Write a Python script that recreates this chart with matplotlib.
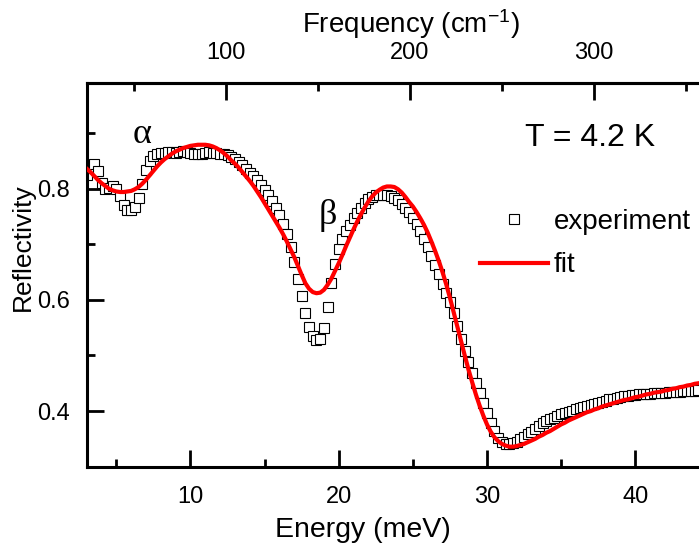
import matplotlib
matplotlib.use("Agg")
import matplotlib.pyplot as plt
from matplotlib.ticker import MultipleLocator, FixedLocator

plt.rcParams['font.family'] = ['Liberation Sans', 'DejaVu Sans']
plt.rcParams['mathtext.fontset'] = 'custom'
plt.rcParams['mathtext.rm'] = 'Liberation Sans'
plt.rcParams['mathtext.it'] = 'Liberation Sans:italic'

# photon energy grid (meV)
energy = [
    3.00, 3.25, 3.50, 3.75, 4.00, 4.25, 4.50, 4.75,
    5.00, 5.25, 5.50, 5.75, 6.00, 6.25, 6.50, 6.75,
    7.00, 7.25, 7.50, 7.75, 8.00, 8.25, 8.50, 8.75,
    9.00, 9.25, 9.50, 9.75, 10.00, 10.25, 10.50, 10.75,
    11.00, 11.25, 11.50, 11.75, 12.00, 12.25, 12.50, 12.75,
    13.00, 13.25, 13.50, 13.75, 14.00, 14.25, 14.50, 14.75,
    15.00, 15.25, 15.50, 15.75, 16.00, 16.25, 16.50, 16.75,
    17.00, 17.25, 17.50, 17.75, 18.00, 18.25, 18.50, 18.75,
    19.00, 19.25, 19.50, 19.75, 20.00, 20.25, 20.50, 20.75,
    21.00, 21.25, 21.50, 21.75, 22.00, 22.25, 22.50, 22.75,
    23.00, 23.25, 23.50, 23.75, 24.00, 24.25, 24.50, 24.75,
    25.00, 25.25, 25.50, 25.75, 26.00, 26.25, 26.50, 26.75,
    27.00, 27.25, 27.50, 27.75, 28.00, 28.25, 28.50, 28.75,
    29.00, 29.25, 29.50, 29.75, 30.00, 30.25, 30.50, 30.75,
    31.00, 31.25, 31.50, 31.75, 32.00, 32.25, 32.50, 32.75,
    33.00, 33.25, 33.50, 33.75, 34.00, 34.25, 34.50, 34.75,
    35.00, 35.25, 35.50, 35.75, 36.00, 36.25, 36.50, 36.75,
    37.00, 37.25, 37.50, 37.75, 38.00, 38.25, 38.50, 38.75,
    39.00, 39.25, 39.50, 39.75, 40.00, 40.25, 40.50, 40.75,
    41.00, 41.25, 41.50, 41.75, 42.00, 42.25, 42.50, 42.75,
    43.00, 43.25, 43.50, 43.75, 44.00, 44.25,
]

# measured reflectivity
refl_exp = [
    0.825, 0.838, 0.845, 0.832, 0.810, 0.800, 0.801, 0.805,
    0.800, 0.786, 0.771, 0.762, 0.761, 0.767, 0.784, 0.808,
    0.833, 0.850, 0.859, 0.863, 0.864, 0.865, 0.866, 0.866,
    0.865, 0.866, 0.867, 0.866, 0.864, 0.862, 0.862, 0.863,
    0.865, 0.866, 0.865, 0.864, 0.863, 0.862, 0.860, 0.857,
    0.853, 0.848, 0.843, 0.836, 0.829, 0.822, 0.815, 0.807,
    0.798, 0.789, 0.778, 0.766, 0.752, 0.737, 0.718, 0.695,
    0.668, 0.638, 0.607, 0.577, 0.552, 0.535, 0.527, 0.530,
    0.550, 0.588, 0.630, 0.665, 0.691, 0.709, 0.723, 0.735,
    0.747, 0.757, 0.766, 0.774, 0.781, 0.785, 0.788, 0.789,
    0.789, 0.788, 0.786, 0.783, 0.779, 0.773, 0.766, 0.758,
    0.748, 0.737, 0.724, 0.710, 0.695, 0.679, 0.663, 0.646,
    0.629, 0.613, 0.597, 0.576, 0.553, 0.530, 0.508, 0.488,
    0.469, 0.451, 0.433, 0.414, 0.396, 0.379, 0.364, 0.352,
    0.345, 0.341, 0.340, 0.342, 0.345, 0.349, 0.353, 0.358,
    0.363, 0.368, 0.373, 0.378, 0.382, 0.385, 0.388, 0.391,
    0.394, 0.396, 0.398, 0.401, 0.403, 0.405, 0.407, 0.409,
    0.411, 0.413, 0.415, 0.417, 0.419, 0.421, 0.422, 0.424,
    0.426, 0.427, 0.428, 0.429, 0.429, 0.430, 0.430, 0.431,
    0.431, 0.432, 0.432, 0.433, 0.433, 0.434, 0.434, 0.435,
    0.435, 0.436, 0.436, 0.437, 0.437, 0.438,
]

# model fit
refl_fit = [
    0.836, 0.830, 0.823, 0.816, 0.810, 0.805, 0.800, 0.797,
    0.795, 0.794, 0.794, 0.795, 0.796, 0.799, 0.803, 0.809,
    0.816, 0.824, 0.832, 0.840, 0.847, 0.853, 0.858, 0.863,
    0.867, 0.870, 0.873, 0.875, 0.877, 0.878, 0.879, 0.879,
    0.879, 0.878, 0.876, 0.873, 0.869, 0.864, 0.858, 0.851,
    0.845, 0.838, 0.830, 0.822, 0.814, 0.805, 0.795, 0.785,
    0.774, 0.763, 0.752, 0.741, 0.730, 0.718, 0.705, 0.691,
    0.677, 0.661, 0.645, 0.630, 0.620, 0.614, 0.612, 0.613,
    0.618, 0.627, 0.638, 0.652, 0.666, 0.681, 0.697, 0.712,
    0.727, 0.741, 0.754, 0.766, 0.777, 0.786, 0.793, 0.798,
    0.802, 0.804, 0.804, 0.803, 0.799, 0.793, 0.785, 0.776,
    0.768, 0.758, 0.747, 0.735, 0.721, 0.705, 0.688, 0.670,
    0.650, 0.628, 0.604, 0.578, 0.552, 0.526, 0.500, 0.475,
    0.452, 0.430, 0.410, 0.392, 0.376, 0.363, 0.353, 0.346,
    0.341, 0.338, 0.336, 0.336, 0.337, 0.339, 0.341, 0.344,
    0.347, 0.350, 0.354, 0.357, 0.361, 0.364, 0.368, 0.372,
    0.376, 0.379, 0.383, 0.386, 0.389, 0.392, 0.395, 0.398,
    0.400, 0.403, 0.405, 0.408, 0.410, 0.412, 0.414, 0.416,
    0.418, 0.420, 0.421, 0.423, 0.425, 0.426, 0.428, 0.430,
    0.431, 0.433, 0.434, 0.435, 0.437, 0.438, 0.440, 0.441,
    0.443, 0.444, 0.446, 0.447, 0.449, 0.450,
]

freq_ticks = [100, 200, 300]
freq_minor = [50, 150, 250, 350]

MEV_TO_CM = 8.0655

fig = plt.figure(figsize=(6.99, 5.5), dpi=100)
ax = fig.add_axes([0.124, 0.1515, 0.876, 0.6975])

ax.plot(energy, refl_exp, linestyle='none', marker='s', ms=7.5,
        mfc='white', mec='black', mew=0.8, label='experiment', zorder=2)
ax.plot(energy, refl_fit, color='#ff0000', lw=3, label='fit', zorder=3)

ax.set_xlim(3, 44.3)
ax.set_ylim(0.3, 0.99)

ax.xaxis.set_major_locator(MultipleLocator(10))
ax.xaxis.set_minor_locator(MultipleLocator(5))
ax.yaxis.set_major_locator(MultipleLocator(0.2))
ax.yaxis.set_minor_locator(MultipleLocator(0.1))

for s in ax.spines.values():
    s.set_linewidth(2.2)
ax.spines['right'].set_visible(False)

ax.tick_params(which='both', direction='in', width=2, top=False, right=False)
ax.tick_params(which='major', length=12, labelsize=17, pad=14)
ax.tick_params(which='minor', length=6)
ax.tick_params(axis='y', pad=12)

ax.set_xlabel('Energy (meV)', fontsize=20.5)
ax.xaxis.set_label_coords(0.451, -0.13)
ax.set_ylabel('Reflectivity', fontsize=19)
ax.yaxis.set_label_coords(-0.085, 0.573)

# top axis in wavenumbers
sec = ax.secondary_xaxis('top', functions=(lambda e: e * MEV_TO_CM,
                                           lambda f: f / MEV_TO_CM))
sec.xaxis.set_major_locator(FixedLocator(freq_ticks))
sec.xaxis.set_minor_locator(FixedLocator(freq_minor))
sec.spines['top'].set_linewidth(2.2)
sec.tick_params(which='both', direction='in', width=2)
sec.tick_params(which='major', length=12, labelsize=17, pad=14)
sec.tick_params(which='minor', length=6)
sec.set_xlabel('Frequency (cm$^{-1}$)', fontsize=20, labelpad=6)
sec.xaxis.label.set_x(0.530)

ax.text(36.93, 0.892, 'T = 4.2 K', fontsize=23, ha='center', va='center')
ax.text(6.72, 0.897, 'α', fontsize=26, ha='center', va='center',
        family=['Liberation Serif', 'DejaVu Serif'])
ax.text(19.26, 0.752, 'β', fontsize=26, ha='center', va='center',
        family=['Liberation Serif', 'DejaVu Serif'])

ax.legend(loc='center left', bbox_to_anchor=(480 / 699, 1 - 243.5 / 550),
          bbox_transform=fig.transFigure, frameon=False, fontsize=20,
          handlelength=2.45, handletextpad=0.2, labelspacing=0.63,
          borderpad=0, borderaxespad=0, numpoints=1)

fig.savefig('out.png', dpi=100)
